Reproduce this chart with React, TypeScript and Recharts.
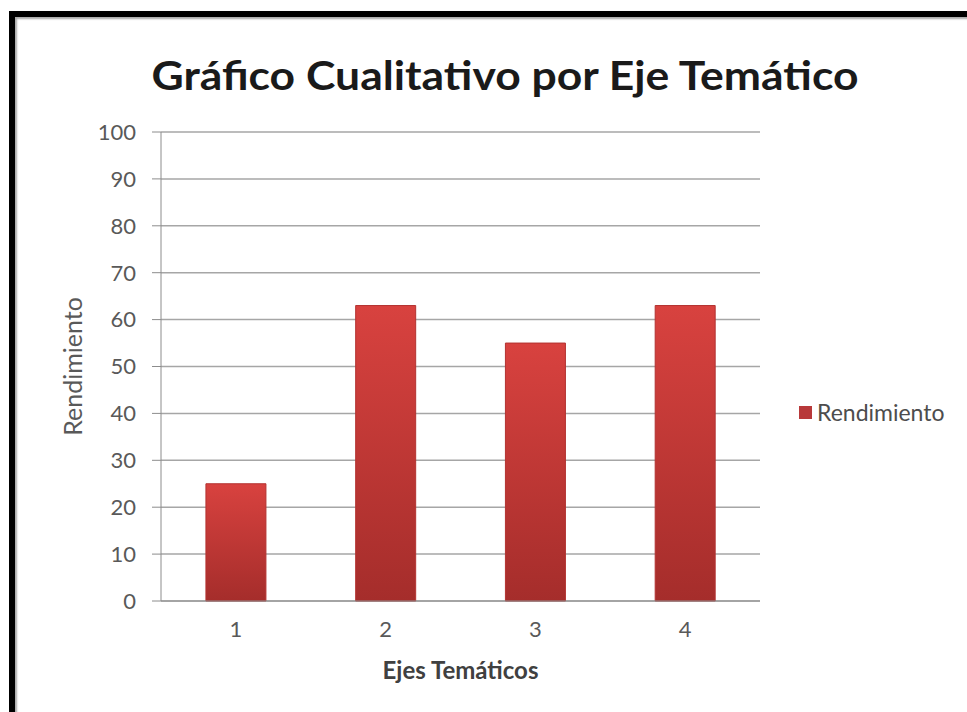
import { BarChart, Bar, XAxis, YAxis, CartesianGrid } from "recharts";

const categories = ["1", "2", "3", "4"];
const rendimiento = [25, 63, 55, 63];
const yTicks = [0, 10, 20, 30, 40, 50, 60, 70, 80, 90, 100];

const chartData = categories.map((eje, i) => ({ eje, rendimiento: rendimiento[i] }));

const FONT = "Lato, 'Open Sans', sans-serif";
const GRAY = "#595959";

export default function App() {
    return (
        <div style={{ position: "absolute", left: 0, top: 0, width: 967, height: 712, background: "#fff", overflow: "hidden", fontFamily: FONT }}>
            {/* frame: thick black on left and top only */}
            <div
                style={{
                    position: "absolute",
                    left: 9,
                    top: 11,
                    width: 967,
                    height: 712,
                    borderLeft: "6px solid #000",
                    borderTop: "6px solid #000",
                    boxShadow: "inset 3px 3px 2px -1px #aaa",
                }}
            />
            <svg width={967} height={120} style={{ position: "absolute", left: 0, top: 0 }}>
                <text
                    x={505}
                    y={90}
                    textAnchor="middle"
                    fontFamily={FONT}
                    fontWeight={700}
                    fontSize={41}
                    fill="#1a1a1a"
                    textLength={707}
                    lengthAdjust="spacingAndGlyphs"
                >
                    Gráfico Cualitativo por Eje Temático
                </text>
            </svg>
            <div style={{ position: "absolute", left: 0, top: 0 }}>
                <BarChart
                    width={967}
                    height={712}
                    data={chartData}
                    margin={{ top: 132, right: 207, bottom: 71, left: 101 }}
                    barCategoryGap="30%"
                >
                    <defs>
                        <linearGradient id="barFill" x1="0" y1="0" x2="0" y2="1">
                            <stop offset="0%" stopColor="#d8423f" />
                            <stop offset="100%" stopColor="#a52d2b" />
                        </linearGradient>
                    </defs>
                    <CartesianGrid vertical={false} stroke="#a6a6a6" strokeWidth={1.5} />
                    <XAxis
                        dataKey="eje"
                        height={40}
                        axisLine={{ stroke: "#8c8c8c" }}
                        tickLine={false}
                        tick={{ fill: GRAY, fontSize: 22, fontFamily: FONT }}
                        tickMargin={14}
                        label={{ value: "Ejes Temáticos", position: "insideBottom", offset: -38, fill: "#404040", fontSize: 24, fontWeight: 700, fontFamily: FONT }}
                    />
                    <YAxis
                        width={60}
                        domain={[0, 100]}
                        ticks={yTicks}
                        interval={0}
                        axisLine={{ stroke: "#8c8c8c" }}
                        tickLine={{ stroke: "#8c8c8c" }}
                        tickSize={9}
                        tickMargin={16}
                        tick={{ fill: GRAY, fontSize: 22, fontFamily: FONT }}
                        label={{ value: "Rendimiento", angle: -90, position: "insideLeft", offset: -28, fill: GRAY, fontSize: 25, fontFamily: FONT, style: { textAnchor: "middle" } }}
                    />
                    <Bar dataKey="rendimiento" fill="url(#barFill)" stroke="#b33331" strokeWidth={1} isAnimationActive={false} />
                </BarChart>
            </div>
            {/* legend */}
            <div style={{ position: "absolute", left: 799, top: 398, display: "flex", alignItems: "center", gap: 5 }}>
                <div style={{ width: 13, height: 13, background: "#b8393a" }} />
                <span style={{ color: "#4d4d4d", fontSize: 23, fontFamily: FONT }}>Rendimiento</span>
            </div>
        </div>
    );
}
